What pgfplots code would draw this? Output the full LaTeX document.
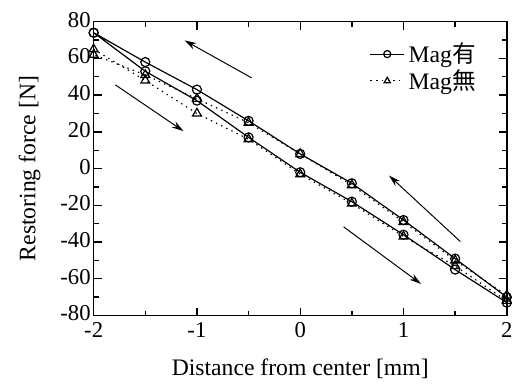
\documentclass[border=0pt]{standalone}
\usepackage{pgfplots}
\pgfplotsset{compat=1.18}
\usepackage{fontspec}
\setmainfont{Liberation Serif}
\newfontfamily\cjk{Noto Sans CJK JP}
\usetikzlibrary{arrows.meta}
\begin{document}
\begin{tikzpicture}
\begin{axis}[
  name=ax,
  scale only axis, width=209.5pt, height=149pt,
  xmin=-2, xmax=2, ymin=-80, ymax=80,
  xtick={-2,-1,0,1,2}, ytick={-80,-60,...,80},
  minor x tick num=1, minor y tick num=1,
  tick align=inside, major tick length=4pt, minor tick length=2.5pt,
  axis line style={line width=0.8pt}, every tick/.style={line width=0.7pt, black},
  /pgf/number format/assume math mode=true,
  ticklabel style={font=\fontsize{11.5}{13}\selectfont},
  xticklabel style={yshift=0pt},
  yticklabel style={xshift=2pt, yshift=1pt},
  xlabel={Distance from center [mm]}, ylabel={Restoring force [N]},
  label style={font=\fontsize{12}{14}\selectfont},
  xlabel style={at={(axis description cs:0.5,-0.18)}, anchor=center},
  ylabel style={at={(axis description cs:-0.155,0.5)}, anchor=center},
  legend style={draw=none, fill=none, at={(0.94,0.95)}, anchor=north east,
    font=\fontsize{12}{14}\selectfont, row sep=-2pt, inner sep=1pt},
  legend cell align=left,
  legend image post style={mark size=1.8pt},
]
\addplot[black, line width=0.6pt, mark=o, mark size=2.3pt, mark options={solid, line width=0.6pt, fill=white}] coordinates {
(-2,74) (-1.5,53) (-1,37) (-0.5,17) (0,-2) (0.5,-18) (1,-36) (1.5,-55) (2,-73)
(2,-70) (1.5,-49) (1,-28) (0.5,-8) (0,8) (-0.5,26) (-1,43) (-1.5,58) (-2,74)
};
\addlegendentry{Mag{\cjk 有}}
\addplot[black, line width=0.6pt, dash pattern=on 0.7pt off 2.2pt, mark=triangle, mark size=2.6pt, mark options={solid, line width=0.6pt, fill=white}] coordinates {
(-2,65) (-1.5,48) (-1,30) (-0.5,16) (0,-3) (0.5,-19) (1,-37) (1.5,-53) (2,-72)
(2,-69) (1.5,-50) (1,-29) (0.5,-9) (0,8) (-0.5,25) (-1,38) (-1.5,51) (-2,62)
};
\addlegendentry{Mag{\cjk 無}}
\draw[black, line width=0.5pt, -{Stealth[length=6pt, width=3.5pt]}] (axis cs:-0.47,49.4) -- (axis cs:-1.12,69.8);
\draw[black, line width=0.5pt, -{Stealth[length=6pt, width=3.5pt]}] (axis cs:-1.79,45.6) -- (axis cs:-1.13,20.4);
\draw[black, line width=0.5pt, -{Stealth[length=6pt, width=3.5pt]}] (axis cs:1.55,-39.7) -- (axis cs:0.86,-3.8);
\draw[black, line width=0.5pt, -{Stealth[length=6pt, width=3.5pt]}] (axis cs:0.42,-31.7) -- (axis cs:1.17,-62.8);
\end{axis}
\path (ax.north west) ++(0pt,11pt);
\path (ax.south west) ++(-47.5pt,-30pt);
\path (ax.south east) ++(2.5pt,0pt);
\end{tikzpicture}
\end{document}
